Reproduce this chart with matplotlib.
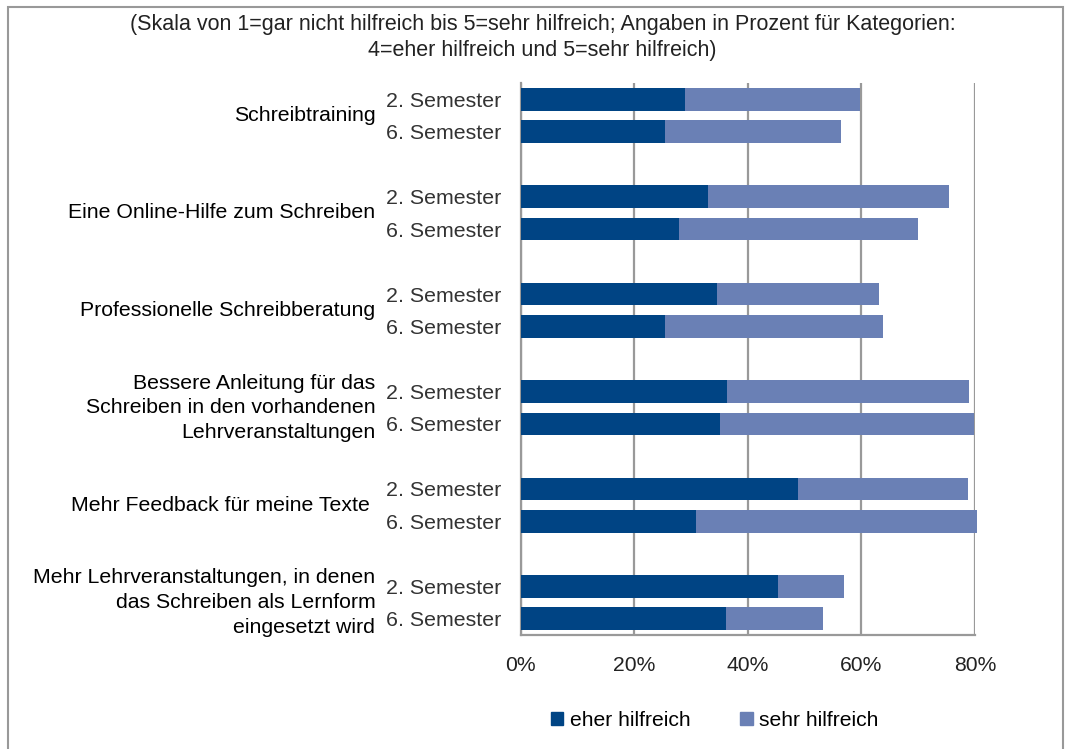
import numpy as np
import matplotlib
matplotlib.use("Agg")
import matplotlib.pyplot as plt
import matplotlib.patches as patches
from matplotlib.transforms import blended_transform_factory

plt.rcParams['font.family'] = ['Liberation Sans', 'DejaVu Sans']

# Daten (Anteile in %)
kategorien = ["Schreibtraining",
              "Eine Online-Hilfe zum Schreiben",
              "Professionelle Schreibberatung",
              "Bessere Anleitung für das\nSchreiben in den vorhandenen\nLehrveranstaltungen",
              "Mehr Feedback für meine Texte ",
              "Mehr Lehrveranstaltungen, in denen\ndas Schreiben als Lernform\neingesetzt wird"]
semester = ["2. Semester", "6. Semester"]

eher_2 = [29.0, 33.0, 34.5, 36.4, 48.8, 45.4]
eher_6 = [25.5, 27.9, 25.5, 35.1, 30.8, 36.1]
gesamt_2 = [59.7, 75.5, 63.1, 79.0, 78.7, 56.9]
gesamt_6 = [56.4, 69.9, 63.8, 79.8, 80.3, 53.2]

titel = ("(Skala von 1=gar nicht hilfreich bis 5=sehr hilfreich; Angaben in Prozent für Kategorien:\n"
         "4=eher hilfreich und 5=sehr hilfreich)")

dunkel = '#004484'
hell = '#6a80b5'
grau = '#999999'

eher_2 = np.array(eher_2); eher_6 = np.array(eher_6)
sehr_2 = np.array(gesamt_2) - eher_2
sehr_6 = np.array(gesamt_6) - eher_6

fig = plt.figure(figsize=(10.68, 7.49), dpi=100)
ax = fig.add_axes([0.4875, 0.1522, 0.4254, 0.737])

g = np.arange(len(kategorien))
y2 = g * 3 + 0.5
y6 = g * 3 + 1.5
h = 0.70

ax.barh(y2, eher_2, height=h, color=dunkel, clip_on=False, zorder=3)
ax.barh(y2, sehr_2, left=eher_2, height=h, color=hell, clip_on=False, zorder=3)
ax.barh(y6, eher_6, height=h, color=dunkel, clip_on=False, zorder=3)
ax.barh(y6, sehr_6, left=eher_6, height=h, color=hell, clip_on=False, zorder=3)

ax.set_xlim(0, 80)
ax.set_ylim(17, 0)
ax.set_xticks([0, 20, 40, 60, 80])
ax.set_xticklabels(['0%', '20%', '40%', '60%', '80%'], fontsize=15.2, color='#222222')
ax.xaxis.grid(True, color=grau, lw=1.6, zorder=0)

yt = np.concatenate([y2, y6])
ax.set_yticks(yt)
ax.set_yticklabels([semester[0]] * len(g) + [semester[1]] * len(g), fontsize=15.4, color='#333333')
ax.tick_params(axis='both', length=0)
ax.tick_params(axis='y', pad=14)
ax.tick_params(axis='x', pad=15)

for s in ['top', 'right']:
    ax.spines[s].set_visible(False)
for s in ['left', 'bottom']:
    ax.spines[s].set_color(grau)
    ax.spines[s].set_linewidth(1.6)

trans = blended_transform_factory(ax.transAxes, ax.transData)
for i, k in enumerate(kategorien):
    ax.text(-0.32, g[i] * 3 + 1.0, k, transform=trans, ha='right', va='center',
            fontsize=15.3, color='black', linespacing=1.37)

fig.text(0.508, 0.95, titel, ha='center', va='center', fontsize=15.5, color='#222222',
         linespacing=1.26)

handles = [patches.Patch(color=dunkel, label='eher hilfreich'),
           patches.Patch(color=hell, label='sehr hilfreich')]
fig.legend(handles=handles, loc='center', bbox_to_anchor=(0.669, 0.038), ncol=2,
           frameon=False, fontsize=15.2, handlelength=0.6, handleheight=0.6,
           handletextpad=0.3, columnspacing=2.35)

rahmen = patches.Rectangle((8 / 1068, -0.01), 1055 / 1068, 1.01 - 7 / 749,
                           transform=fig.transFigure, fill=False, ec=grau, lw=1.5)
fig.patches.append(rahmen)

fig.savefig('out.png', dpi=100)
